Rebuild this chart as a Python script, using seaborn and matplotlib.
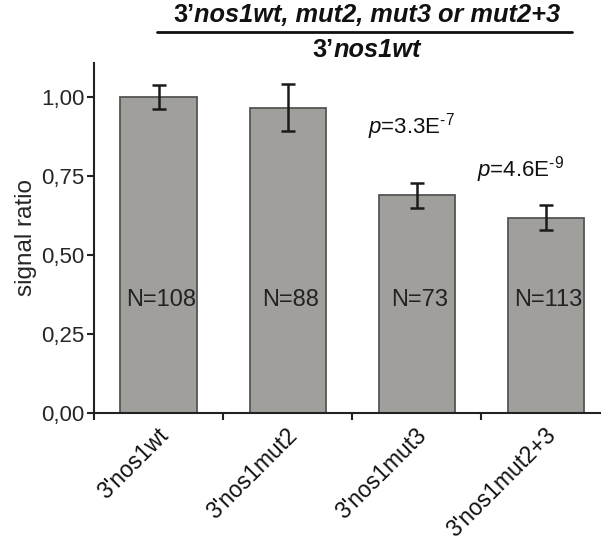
import matplotlib
matplotlib.use("Agg")
import matplotlib.pyplot as plt
import matplotlib.transforms as mtransforms
import seaborn as sns
import pandas as pd
from matplotlib.lines import Line2D

categories = ["3'nos1wt", "3'nos1mut2", "3'nos1mut3", "3'nos1mut2+3"]
means = [1.00, 0.965, 0.688, 0.618]
errors = [0.037, 0.074, 0.040, 0.039]
n_labels = ["N=108", "N=88", "N=73", "N=113"]
p_labels = ["$\\it{p}$=3.3E$^{\u20107}$", "$\\it{p}$=4.6E$^{\u20109}$"]
y_ticks = [0.0, 0.25, 0.5, 0.75, 1.0]
y_ticklabels = ["0,00", "0,25", "0,50", "0,75", "1,00"]

sns.set_style("ticks")
plt.rcParams["font.family"] = ["Liberation Sans", "DejaVu Sans"]
plt.rcParams["mathtext.fontset"] = "custom"
plt.rcParams["mathtext.rm"] = "Liberation Sans"
plt.rcParams["mathtext.it"] = "Liberation Sans:italic"
plt.rcParams["mathtext.bf"] = "Liberation Sans:bold"

df = pd.DataFrame({"cat": categories, "val": means})

fig = plt.figure(figsize=(6.05, 5.44), dpi=100)
ax = fig.add_axes([94/605, 1-413/544, (600-94)/605, (413-63)/544])

sns.barplot(data=df, x="cat", y="val", color="#a09f9b", saturation=1,
            width=0.59, edgecolor="#555555", linewidth=1.3, ax=ax, errorbar=None)
ax.errorbar(range(len(categories)), means, yerr=errors, fmt="none",
            ecolor="#1a1a1a", elinewidth=1.8, capsize=5, capthick=1.8)

ax.set_xlim(-0.5, 3.42)
ax.set_ylim(0, 1.107)
ax.set_yticks(y_ticks)
ax.set_yticklabels(y_ticklabels, fontsize=16)
ax.set_xticks(range(len(categories)))
ax.set_xticklabels([])
ax.set_xticks([-0.5, 0.5, 1.5, 2.5], minor=True)
ax.tick_params(axis="x", which="major", length=0)
ax.tick_params(axis="x", which="minor", length=5, width=1.5, color="#222222")
ax.tick_params(axis="y", length=5, width=1.5, color="#222222", pad=2)
ax.set_xlabel("")
ax.set_ylabel("signal ratio", fontsize=17.5, labelpad=3)
for s in ["top", "right"]:
    ax.spines[s].set_visible(False)
for s in ["left", "bottom"]:
    ax.spines[s].set_linewidth(1.5)
    ax.spines[s].set_color("#222222")

# rotated category labels
lab_trans = ax.get_xaxis_transform() + mtransforms.ScaledTranslation(
    6/100, -19/100, fig.dpi_scale_trans)
for i, lab in enumerate(categories):
    ax.text(i, 0, lab, transform=lab_trans,
            fontsize=16.5, rotation=45, ha="right", va="center",
            rotation_mode="anchor", color="#111111")

for i, lab in enumerate(n_labels):
    ax.text(i + 0.02, 0.357, lab, ha="center", va="center", fontsize=17, color="#222222")

ax.text(1.62, 0.905, p_labels[0], ha="left", va="center", fontsize=16, color="#111111")
ax.text(2.47, 0.77, p_labels[1], ha="left", va="center", fontsize=16, color="#111111")

# header with mixed bold / bold italic
fig.canvas.draw()
renderer = fig.canvas.get_renderer()

def mixed_text(pieces, xc, y, size):
    arts = []
    for txt, style in pieces:
        t = fig.text(0, y, txt, fontsize=size, fontweight="bold", fontstyle=style,
                     va="center", ha="left", color="#111111")
        arts.append(t)
    widths = [a.get_window_extent(renderer).width / fig.bbox.width for a in arts]
    x = xc - sum(widths) / 2
    for a, w in zip(arts, widths):
        a.set_x(x)
        x += w

mixed_text([("3\u2019", "normal"), ("nos1wt, mut2, mut3 or mut2+3", "italic")],
           367/605, 1-15/544, 18.3)
mixed_text([("3\u2019", "normal"), ("nos1wt", "italic")], 367/605, 1-50/544, 18.3)
fig.add_artist(Line2D([157/605, 572/605], [1-32/544, 1-32/544],
                      transform=fig.transFigure, color="#111111", linewidth=2))

fig.savefig("out.png", dpi=100)
